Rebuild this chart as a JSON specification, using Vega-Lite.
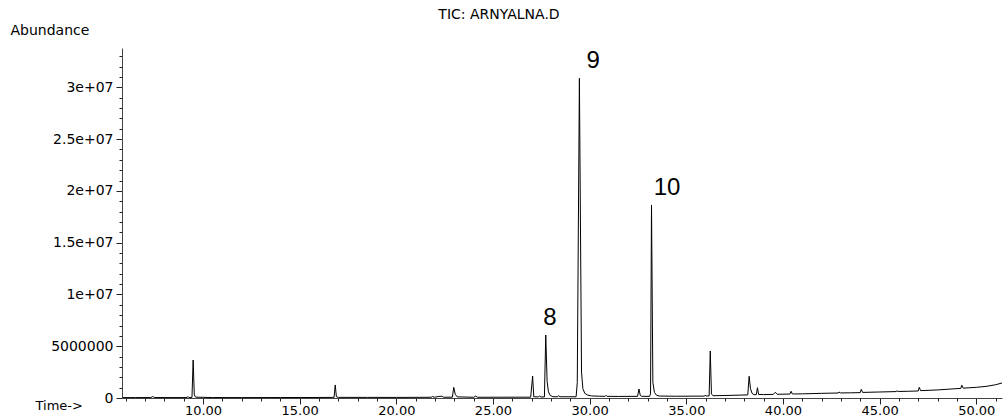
{
  "$schema": "https://vega.github.io/schema/vega-lite/v6.json",
  "width": 880,
  "height": 350,
  "autosize": {"type": "none"},
  "padding": {"left": 122, "top": 48, "right": 2, "bottom": 19},
  "background": "white",
  "title": {"text": "TIC: ARNYALNA.D", "font": "DejaVu Sans", "fontSize": 14, "fontWeight": "normal", "color": "black", "anchor": "middle", "frame": "group", "dx": -63, "dy": 3, "offset": 4},
  "config": {"view": {"stroke": null}},
  "resolve": {"axis": {"x": "independent", "y": "independent"}},
  "layer": [
    {
      "data": {"values": [
        {"t": 5.85, "v": 40000}, {"t": 6.5, "v": 40000}, {"t": 7.3, "v": 45000}, {"t": 7.4, "v": 140000}, {"t": 7.5, "v": 45000},
        {"t": 8.5, "v": 40000}, {"t": 9.18, "v": 45000}, {"t": 9.22, "v": 140000}, {"t": 9.27, "v": 45000},
        {"t": 9.43, "v": 60000}, {"t": 9.49, "v": 3670000}, {"t": 9.55, "v": 300000}, {"t": 9.62, "v": 80000},
        {"t": 10.5, "v": 45000}, {"t": 12.0, "v": 40000}, {"t": 14.0, "v": 45000}, {"t": 16.0, "v": 50000},
        {"t": 16.78, "v": 60000}, {"t": 16.84, "v": 1260000}, {"t": 16.9, "v": 120000}, {"t": 17.0, "v": 60000},
        {"t": 18.5, "v": 60000}, {"t": 20.0, "v": 55000}, {"t": 21.8, "v": 70000}, {"t": 21.88, "v": 150000}, {"t": 21.96, "v": 70000},
        {"t": 22.2, "v": 150000}, {"t": 22.35, "v": 170000}, {"t": 22.45, "v": 75000},
        {"t": 22.9, "v": 80000}, {"t": 22.97, "v": 1030000}, {"t": 23.05, "v": 350000}, {"t": 23.15, "v": 110000},
        {"t": 24.0, "v": 70000}, {"t": 24.1, "v": 180000}, {"t": 24.2, "v": 70000},
        {"t": 26.95, "v": 80000}, {"t": 27.05, "v": 2120000}, {"t": 27.11, "v": 120000},
        {"t": 27.35, "v": 100000}, {"t": 27.4, "v": 200000}, {"t": 27.48, "v": 100000},
        {"t": 27.66, "v": 100000}, {"t": 27.73, "v": 6080000}, {"t": 27.8, "v": 1600000}, {"t": 27.87, "v": 600000}, {"t": 27.96, "v": 250000}, {"t": 28.1, "v": 120000},
        {"t": 28.35, "v": 120000}, {"t": 28.4, "v": 230000}, {"t": 28.45, "v": 120000},
        {"t": 29.3, "v": 120000}, {"t": 29.36, "v": 1500000}, {"t": 29.47, "v": 30870000}, {"t": 29.58, "v": 2500000},
        {"t": 29.65, "v": 900000}, {"t": 29.75, "v": 450000}, {"t": 29.9, "v": 280000}, {"t": 30.1, "v": 200000},
        {"t": 30.5, "v": 170000}, {"t": 30.8, "v": 160000}, {"t": 30.85, "v": 260000}, {"t": 30.9, "v": 160000},
        {"t": 31.5, "v": 150000}, {"t": 32.48, "v": 160000}, {"t": 32.55, "v": 870000}, {"t": 32.62, "v": 250000}, {"t": 32.7, "v": 160000},
        {"t": 33.1, "v": 160000}, {"t": 33.15, "v": 400000}, {"t": 33.2, "v": 18640000}, {"t": 33.27, "v": 1500000},
        {"t": 33.35, "v": 550000}, {"t": 33.45, "v": 280000}, {"t": 33.6, "v": 190000},
        {"t": 34.5, "v": 170000}, {"t": 35.5, "v": 180000}, {"t": 35.94, "v": 180000}, {"t": 35.98, "v": 280000}, {"t": 36.02, "v": 190000},
        {"t": 36.18, "v": 200000}, {"t": 36.24, "v": 4540000}, {"t": 36.3, "v": 400000}, {"t": 36.38, "v": 220000},
        {"t": 37.0, "v": 240000}, {"t": 37.8, "v": 280000}, {"t": 38.18, "v": 300000}, {"t": 38.25, "v": 2100000},
        {"t": 38.32, "v": 900000}, {"t": 38.4, "v": 450000}, {"t": 38.5, "v": 320000},
        {"t": 38.62, "v": 320000}, {"t": 38.68, "v": 990000}, {"t": 38.74, "v": 340000},
        {"t": 39.0, "v": 330000}, {"t": 39.5, "v": 350000}, {"t": 39.6, "v": 550000}, {"t": 39.7, "v": 360000},
        {"t": 40.0, "v": 370000}, {"t": 40.36, "v": 380000}, {"t": 40.42, "v": 650000}, {"t": 40.48, "v": 400000},
        {"t": 40.6, "v": 390000}, {"t": 41.0, "v": 400000}, {"t": 42.0, "v": 450000},
        {"t": 42.85, "v": 480000}, {"t": 42.9, "v": 580000}, {"t": 42.97, "v": 490000},
        {"t": 43.5, "v": 500000}, {"t": 44.0, "v": 520000}, {"t": 44.05, "v": 840000}, {"t": 44.12, "v": 540000},
        {"t": 45.0, "v": 580000}, {"t": 45.85, "v": 620000}, {"t": 45.9, "v": 700000}, {"t": 45.96, "v": 630000},
        {"t": 46.5, "v": 650000}, {"t": 47.0, "v": 680000}, {"t": 47.05, "v": 1030000}, {"t": 47.12, "v": 710000},
        {"t": 48.0, "v": 780000}, {"t": 48.8, "v": 880000}, {"t": 49.2, "v": 930000}, {"t": 49.25, "v": 1230000}, {"t": 49.32, "v": 950000},
        {"t": 50.0, "v": 1030000}, {"t": 50.5, "v": 1120000}, {"t": 51.0, "v": 1280000}, {"t": 51.33, "v": 1450000}
      ]},
      "mark": {"type": "line", "color": "black", "strokeWidth": 1, "interpolate": "linear"},
      "encoding": {
        "x": {
          "field": "t", "type": "quantitative",
          "scale": {"domain": [5.81, 51.33], "nice": false, "zero": false},
          "axis": {
            "orient": "bottom",
            "title": "Time->", "titleFont": "DejaVu Sans", "titleFontSize": 13, "titleFontWeight": "normal", "titleColor": "black",
            "titleAlign": "left", "titleBaseline": "middle", "titleAnchor": "start", "titleX": -87, "titleY": 7, "titleAngle": 0,
            "values": [10, 15, 20, 25, 30, 35, 40, 45, 50],
            "format": ".2f",
            "labelFont": "DejaVu Sans", "labelFontSize": 13, "labelColor": "black", "labelPadding": 0,
            "labelOverlap": false, "labelFlush": false, "labelBound": false,
            "tickSize": 6, "tickColor": "#222", "domainColor": "#444", "grid": false
          }
        },
        "y": {
          "field": "v", "type": "quantitative",
          "scale": {"domain": [0, 33800000], "nice": false},
          "axis": {
            "orient": "left",
            "title": "Abundance", "titleFont": "DejaVu Sans", "titleFontSize": 14, "titleFontWeight": "normal", "titleColor": "black",
            "titleAngle": 0, "titleAlign": "left", "titleBaseline": "middle", "titleX": -112, "titleY": -18,
            "values": [0, 5000000, 10000000, 15000000, 20000000, 25000000, 30000000],
            "labelExpr": "datum.value === 0 ? '0' : datum.value === 5000000 ? '5000000' : (datum.value / 10000000) + 'e+07'",
            "labelFont": "DejaVu Sans", "labelFontSize": 14, "labelColor": "black", "labelPadding": 3,
            "labelOverlap": false, "labelFlush": false, "labelBound": false,
            "tickSize": 6, "tickColor": "#222", "domainColor": "#444", "grid": false
          }
        }
      }
    },
    {
      "data": {"values": [
        {"t": 27.95, "v": 7730000, "label": "8"},
        {"t": 30.18, "v": 32540000, "label": "9"},
        {"t": 34.0, "v": 20280000, "label": "10"}
      ]},
      "mark": {"type": "text", "font": "Liberation Sans", "fontSize": 24, "baseline": "middle", "align": "center", "color": "black"},
      "encoding": {
        "x": {
          "field": "t", "type": "quantitative",
          "axis": {
            "orient": "bottom", "title": null, "labels": false, "domain": false, "grid": false,
            "values": [6,7,8,9,11,12,13,14,16,17,18,19,21,22,23,24,26,27,28,29,31,32,33,34,36,37,38,39,41,42,43,44,46,47,48,49,51],
            "tickSize": 3, "tickColor": "#222"
          }
        },
        "y": {
          "field": "v", "type": "quantitative",
          "axis": {
            "orient": "left", "title": null, "labels": false, "domain": false, "grid": false,
            "values": [1000000,2000000,3000000,4000000,6000000,7000000,8000000,9000000,11000000,12000000,13000000,14000000,16000000,17000000,18000000,19000000,21000000,22000000,23000000,24000000,26000000,27000000,28000000,29000000,31000000,32000000,33000000],
            "tickSize": 3, "tickColor": "#222"
          }
        },
        "text": {"field": "label"}
      }
    }
  ]
}
